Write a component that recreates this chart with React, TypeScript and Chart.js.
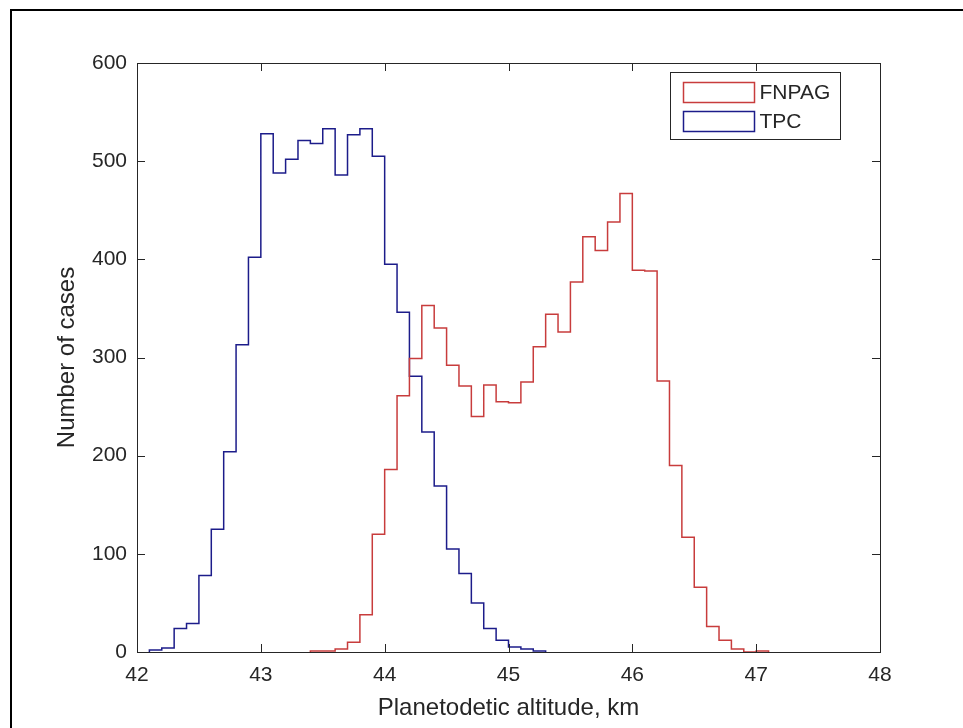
import React, { useEffect, useRef } from "react";
import { Chart, registerables } from "chart.js";

Chart.register(...registerables);

// Histogram bins (width 0.1 km), counts per bin starting at the given left edge
const binWidth = 0.1;
const fnpagStart = 43.4;
const fnpagCounts = [
  1, 1, 3, 10, 38, 120, 186, 261, 299, 353, 330, 292, 271, 240, 272, 255, 254,
  275, 311, 344, 326, 377, 423, 409, 438, 467, 389, 388, 276, 190, 117, 66, 26,
  12, 3, 0, 1,
];
const tpcStart = 42.1;
const tpcCounts = [
  2, 4, 24, 29, 78, 125, 204, 313, 402, 528, 488, 502, 521, 518, 533, 486, 527,
  533, 505, 395, 346, 281, 224, 169, 105, 80, 50, 24, 12, 5, 3, 1,
];
const seriesLabels = ["FNPAG", "TPC"];
const xTicks = [42, 43, 44, 45, 46, 47, 48];
const yTicks = [0, 100, 200, 300, 400, 500, 600];
const xTitle = "Planetodetic altitude, km";
const yTitle = "Number of cases";

const FONT = "'Liberation Sans', Arial, Helvetica, sans-serif";
const AXIS_COLOR = "#262626";
const RED = "#c83c3c";
const BLUE = "#1c1c8a";

function stairs(start: number, counts: number[]) {
  const pts: { x: number; y: number }[] = [{ x: start, y: 0 }];
  counts.forEach((c, i) => {
    pts.push({ x: Math.round((start + i * binWidth) * 10) / 10, y: c });
  });
  pts.push({ x: Math.round((start + counts.length * binWidth) * 10) / 10, y: 0 });
  return pts;
}

const boxPlugin = {
  id: "matlabBox",
  afterDatasetsDraw(chart: any) {
    const { ctx, chartArea: a, scales } = chart;
    ctx.save();
    ctx.strokeStyle = AXIS_COLOR;
    ctx.lineWidth = 1;
    ctx.strokeRect(Math.round(a.left) + 0.5, Math.round(a.top) + 0.5, Math.round(a.right - a.left), Math.round(a.bottom - a.top));
    const tl = 8;
    ctx.beginPath();
    xTicks.forEach((v) => {
      const px = Math.round(scales.x.getPixelForValue(v)) + 0.5;
      ctx.moveTo(px, a.bottom);
      ctx.lineTo(px, a.bottom - tl);
      ctx.moveTo(px, a.top);
      ctx.lineTo(px, a.top + tl);
    });
    yTicks.forEach((v) => {
      const py = Math.round(scales.y.getPixelForValue(v)) + 0.5;
      ctx.moveTo(a.left, py);
      ctx.lineTo(a.left + tl, py);
      ctx.moveTo(a.right, py);
      ctx.lineTo(a.right - tl, py);
    });
    ctx.stroke();
    ctx.restore();
  },
  afterDraw(chart: any) {
    const { ctx, chartArea: a } = chart;
    const w = 170;
    const h = 67;
    const x0 = Math.round(a.right - 40 - w) + 0.5;
    const y0 = Math.round(a.top + 9) + 0.5;
    ctx.save();
    ctx.fillStyle = "#ffffff";
    ctx.fillRect(x0, y0, w, h);
    ctx.strokeStyle = AXIS_COLOR;
    ctx.lineWidth = 1;
    ctx.strokeRect(x0, y0, w, h);
    chart.data.datasets.forEach((ds: any, i: number) => {
      const ry = y0 + 10 + i * 29;
      ctx.strokeStyle = ds.borderColor;
      ctx.lineWidth = 1.5;
      ctx.strokeRect(x0 + 13, ry, 71, 20);
      ctx.fillStyle = AXIS_COLOR;
      ctx.font = `21px ${FONT}`;
      ctx.textBaseline = "middle";
      ctx.textAlign = "left";
      ctx.fillText(ds.label, x0 + 89, ry + 11);
    });
    ctx.restore();
  },
};

export default function App() {
  const ref = useRef<HTMLCanvasElement>(null);
  useEffect(() => {
    if (!ref.current) return;
    const chart = new Chart(ref.current, {
      type: "line",
      data: {
        datasets: [
          {
            label: seriesLabels[0],
            data: stairs(fnpagStart, fnpagCounts),
            borderColor: RED,
            borderWidth: 1.5,
            pointRadius: 0,
            fill: false,
            stepped: "before",
          },
          {
            label: seriesLabels[1],
            data: stairs(tpcStart, tpcCounts),
            borderColor: BLUE,
            borderWidth: 1.5,
            pointRadius: 0,
            fill: false,
            stepped: "before",
          },
        ],
      },
      options: {
        responsive: false,
        animation: false,
        layout: { padding: { left: 0, top: 63, right: 83, bottom: 0 } },
        plugins: { legend: { display: false }, tooltip: { enabled: false } },
        scales: {
          x: {
            type: "linear",
            min: 42,
            max: 48,
            afterBuildTicks: (s: any) => {
              s.ticks = xTicks.map((v) => ({ value: v }));
            },
            afterFit: (s: any) => {
              s.height = 76;
            },
            grid: { display: false, drawTicks: false },
            border: { display: false },
            ticks: { color: AXIS_COLOR, padding: 11, font: { family: FONT, size: 21 } },
            title: {
              display: true,
              text: xTitle,
              color: AXIS_COLOR,
              font: { family: FONT, size: 24 },
              padding: { top: 0, bottom: 5 },
            },
          },
          y: {
            type: "linear",
            min: 0,
            max: 600,
            afterBuildTicks: (s: any) => {
              s.ticks = yTicks.map((v) => ({ value: v }));
            },
            afterFit: (s: any) => {
              s.width = 137;
            },
            grid: { display: false, drawTicks: false },
            border: { display: false },
            ticks: { color: AXIS_COLOR, padding: 10, font: { family: FONT, size: 21 } },
            title: {
              display: true,
              text: yTitle,
              color: AXIS_COLOR,
              font: { family: FONT, size: 24 },
              padding: { top: 53, bottom: 0 },
            },
          },
        },
      },
      plugins: [boxPlugin],
    });
    return () => chart.destroy();
  }, []);
  return (
    <div style={{ position: "fixed", left: 0, top: 0, width: 963, height: 728, background: "#fff", overflow: "hidden" }}>
      <canvas ref={ref} width={963} height={728} style={{ display: "block" }} />
      <div
        style={{
          position: "absolute",
          left: 10,
          top: 9,
          width: 1000,
          height: 800,
          borderLeft: "2px solid #000",
          borderTop: "2px solid #000",
          pointerEvents: "none",
        }}
      />
    </div>
  );
}
